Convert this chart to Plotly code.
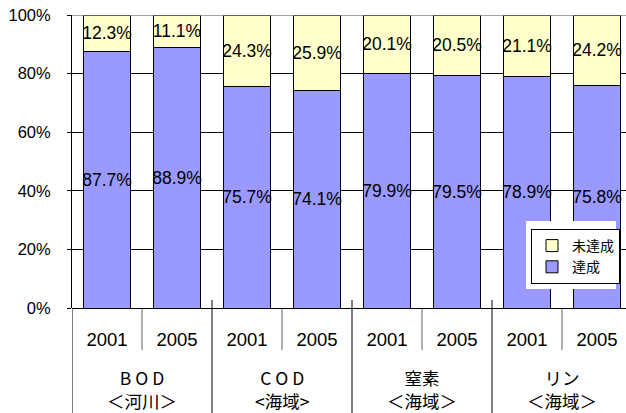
import plotly.graph_objects as go

# ---- data ----
groups = ["B O D", "C O D", "窒素", "リン"]
group_sub = ["＜河川＞", "<海域>", "＜海域＞", "＜海域＞"]
years = ["2001", "2005", "2001", "2005", "2001", "2005", "2001", "2005"]
achieved = [87.7, 88.9, 75.7, 74.1, 79.9, 79.5, 78.9, 75.8]
not_achieved = [12.3, 11.1, 24.3, 25.9, 20.1, 20.5, 21.1, 24.2]
y_ticks = [0, 20, 40, 60, 80, 100]
y_tick_text = ["0%", "20%", "40%", "60%", "80%", "100%"]

BLUE = "#9999FF"
YELLOW = "#FFFFCC"
NUM_FONT = "Liberation Sans, Arial, sans-serif"
JP_FONT = "Noto Sans CJK JP, sans-serif"

xpos = list(range(len(years)))

# pixel geometry helpers (plot area: top 15px, bottom 308px)
PLOT_TOP, PLOT_BOT = 15, 308
PH = PLOT_BOT - PLOT_TOP
def py(px):
    return (PLOT_BOT - px) / PH

def bar_trace(vals, name, color):
    return go.Bar(
        x=xpos, y=vals, name=name,
        marker=dict(color=color, line=dict(color="black", width=1)),
        text=[f"{v:.1f}%" for v in vals], textposition="inside",
        insidetextanchor="middle", constraintext="none", textangle=0,
        textfont=dict(family=NUM_FONT, size=17.5, color="black"),
        width=0.67,
    )

fig = go.Figure()
fig.add_trace(bar_trace(achieved, "達成", BLUE))
fig.add_trace(bar_trace(not_achieved, "未達成", YELLOW))

shapes = []
# top gray line at 100%
shapes.append(dict(type="line", xref="paper", yref="y", x0=0, x1=1, y0=100, y1=100,
                   line=dict(color="#808080", width=1.5), layer="above"))
# short dividers between years within a group
for g in range(len(groups)):
    xv = 2 * g + 0.5
    shapes.append(dict(type="line", xref="x", yref="paper", x0=xv, x1=xv,
                       y0=py(309), y1=py(350), line=dict(color="#606060", width=1)))
# group dividers
for g in range(1, len(groups)):
    xv = 2 * g - 0.5
    shapes.append(dict(type="line", xref="x", yref="paper", x0=xv, x1=xv,
                       y0=py(300), y1=py(413), line=dict(color="black", width=1)))
# left axis extension
shapes.append(dict(type="line", xref="x", yref="paper", x0=-0.5, x1=-0.5,
                   y0=py(308), y1=py(413), line=dict(color="black", width=1)))
# white backdrop behind legend
shapes.append(dict(type="rect", xref="paper", yref="paper",
                   x0=(526 - 72) / 554, x1=(616 - 72) / 554,
                   y0=py(289), y1=py(221), fillcolor="white",
                   line=dict(width=0), layer="above"))

annotations = []
for g, (name, sub) in enumerate(zip(groups, group_sub)):
    xc = 2 * g + 0.5
    annotations.append(dict(x=xc, y=py(389), xref="x", yref="paper",
                            text=f"{name}<br>{sub}",
                            showarrow=False, yanchor="middle",
                            font=dict(family=JP_FONT, size=17.5, color="black")))

fig.update_layout(
    barmode="stack",
    width=626, height=413,
    margin=dict(l=72, r=0, t=PLOT_TOP, b=413 - PLOT_BOT, pad=0),
    paper_bgcolor="white", plot_bgcolor="white",
    showlegend=True,
    legend=dict(
        x=(531 - 72) / 554, y=py(229), xanchor="left", yanchor="top",
        bgcolor="white", bordercolor="black", borderwidth=1,
        traceorder="reversed",
        font=dict(family=JP_FONT, size=14, color="black"),
        itemwidth=30, tracegroupgap=0,
    ),
    xaxis=dict(
        range=[-0.5, -0.5 + 554 / 70], tickmode="array", tickvals=xpos, ticktext=years,
        showgrid=False, zeroline=False, showline=False, ticks="",
        tickfont=dict(family=NUM_FONT, size=18.5, color="black"),
        ticklabelstandoff=18, fixedrange=True,
    ),
    yaxis=dict(
        range=[0, 100], tickmode="array", tickvals=y_ticks, ticktext=y_tick_text,
        showgrid=True, gridcolor="black", gridwidth=1,
        zeroline=True, zerolinecolor="black", zerolinewidth=1,
        showline=True, linecolor="black", linewidth=1,
        ticks="outside", ticklen=4, tickcolor="black",
        tickfont=dict(family=NUM_FONT, size=16.5, color="black"),
        ticklabelstandoff=13, fixedrange=True,
    ),
    shapes=shapes, annotations=annotations,
)

fig.write_html(
    "out.html",
    config={"displayModeBar": False},
    post_script="document.body.style.margin='0';document.body.style.overflow='hidden';",
)
